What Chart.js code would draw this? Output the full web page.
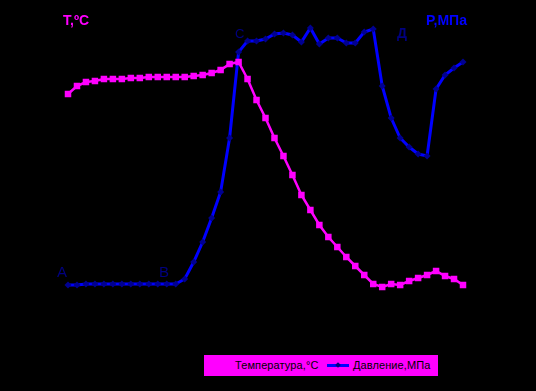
<!DOCTYPE html>
<html>
<head>
<meta charset="utf-8">
<script src="https://cdn.jsdelivr.net/npm/chart.js@4"></script>
<style>
  html, body { margin: 0; padding: 0; background: #000; }
  #wrap { position: relative; width: 536px; height: 391px; }
  #legend {
    position: absolute; left: 204px; top: 355px; width: 234px; height: 21px;
    background: #ff00ff; font: 11px "Liberation Sans", Arial, sans-serif;
    letter-spacing: 0.1px; color: #000;
  }
  #legend span { position: absolute; top: 4px; white-space: nowrap; }
  #legend .line { position: absolute; left: 123px; top: 9px; width: 22px; height: 3px; background: #0000ff; }
  #legend .mark { position: absolute; left: 132px; top: 8px; width: 4px; height: 4px; background: #000080; transform: rotate(45deg); }
</style>
</head>
<body>
<div id="wrap">
  <canvas id="chart" width="536" height="391"></canvas>
  <div id="legend">
    <span style="left:31px">Температура,°C</span>
    <div class="line"></div><div class="mark"></div>
    <span style="left:149px">Давление,МПа</span>
  </div>
</div>
<script>
// time steps
const steps = [0,1,2,3,4,5,6,7,8,9,10,11,12,13,14,15,16,17,18,19,20,21,22,23,24,25,26,27,28,29,30,31,32,33,34,35,36,37,38,39,40,41,42,43,44];

// temperature, °C
const temperature = [103,107,109,109.5,110.5,110.5,110.5,111,111,111.5,111.5,111.5,111.5,111.5,112,112.5,113.5,115,118,119,
  110.5,100,91,81,72,62.5,52.5,45,37.5,31.5,26.5,21.5,17,12.5,8,6.5,8,7.5,9.5,11,12.5,14.5,12,10.5,7.5];

// pressure, MPa
const pressure = [0.75,0.75,0.8,0.8,0.8,0.8,0.8,0.8,0.8,0.8,0.8,0.8,0.8,1.05,1.9,2.9,4.1,5.4,8.1,12.4,
  12.95,12.95,13.05,13.3,13.35,13.25,12.9,13.6,12.8,13.1,13.1,12.85,12.85,13.4,13.55,10.7,9.1,8.1,7.65,7.3,7.2,10.55,11.25,11.6,11.9];

const textFont = '"Liberation Sans", Arial, sans-serif';

// axis titles and point letters
const labelsPlugin = {
  id: 'labels',
  afterDraw(chart) {
    const ctx = chart.ctx;
    ctx.save();
    ctx.textBaseline = 'alphabetic';
    ctx.textAlign = 'left';
    ctx.font = 'bold 14px ' + textFont;
    ctx.fillStyle = '#ff00ff';
    ctx.fillText('T,ºC', 63, 25);
    ctx.fillStyle = '#0000ff';
    ctx.fillText('P,MПа', 426, 25);

    ctx.fillStyle = '#000080';
    ctx.font = '15px ' + textFont;
    ctx.fillText('A', 57, 277);
    ctx.fillText('B', 159, 277);
    ctx.font = '13px ' + textFont;
    ctx.fillText('C', 235, 38);
    ctx.font = 'bold 14px ' + textFont;
    ctx.fillText('Д', 397, 38);
    ctx.restore();
  }
};

new Chart(document.getElementById('chart'), {
  type: 'line',
  data: {
    labels: steps,
    datasets: [
      {
        label: 'Температура,°C',
        data: temperature,
        yAxisID: 'yT',
        borderColor: '#ff00ff',
        backgroundColor: '#ff00ff',
        borderWidth: 2.5,
        pointStyle: 'rect',
        pointRadius: 4.6,
        pointBorderWidth: 0,
        tension: 0,
        clip: false
      },
      {
        label: 'Давление,МПа',
        data: pressure,
        yAxisID: 'yP',
        borderColor: '#0000ff',
        backgroundColor: '#000090',
        borderWidth: 3,
        pointStyle: 'rectRot',
        pointRadius: 3.5,
        pointBorderWidth: 0,
        tension: 0,
        clip: false
      }
    ]
  },
  options: {
    responsive: false,
    animation: false,
    layout: { padding: { left: 68, right: 73, top: 20, bottom: 91 } },
    plugins: {
      legend: { display: false },
      tooltip: { enabled: false }
    },
    scales: {
      x: { display: false, offset: false },
      yT: { display: false, min: 0, max: 140 },
      yP: { display: false, min: 0, max: 14 }
    }
  },
  plugins: [labelsPlugin]
});
</script>
</body>
</html>
